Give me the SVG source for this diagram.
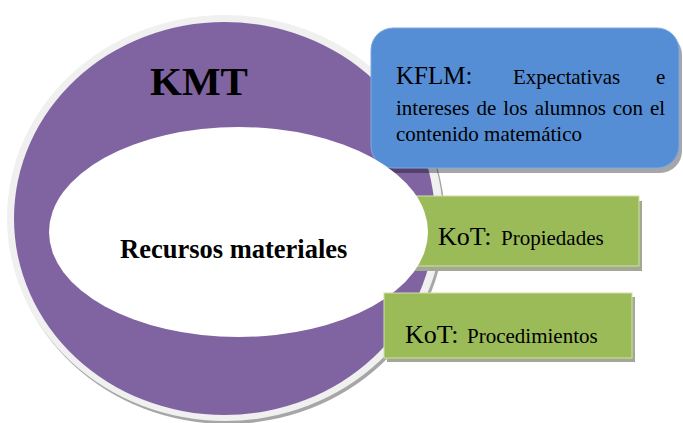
<svg xmlns="http://www.w3.org/2000/svg" width="683" height="423" viewBox="0 0 683 423">
<style>
.t{font-family:"Liberation Serif","Times New Roman",serif;fill:#000}
.b{font-weight:bold}
.green{fill:#9bbb59;stroke:#cfe0a8;stroke-width:1}
.gshadow{fill:#a3a893}
</style>
<rect width="683" height="423" fill="#fff"/>
<g id="kmt">
<ellipse cx="227" cy="221" rx="218" ry="203" fill="#a6a6a6"/>
<ellipse cx="225" cy="218" rx="218" ry="203" fill="#f0f0f0"/>
<ellipse cx="224.5" cy="218.5" rx="210.5" ry="196.5" fill="#8064a2"/>
<text class="t b" x="150" y="95" font-size="41">KMT</text>
</g>
<g id="kflm">
<rect x="374" y="33" width="308" height="140" rx="22" fill="#000" opacity="0.35"/>
<rect x="371" y="28" width="308" height="140" rx="22" fill="#558ed5" stroke="#7ea9e2" stroke-width="1"/>
<text class="t" font-size="21"><tspan x="396" y="84" font-size="25">KFLM:</tspan><tspan x="513" y="84">Expectativas</tspan><tspan x="656" y="84">e</tspan></text>
<text class="t" x="396" y="115" font-size="21" word-spacing="1.7">intereses de los alumnos con el</text>
<text class="t" x="396" y="141" font-size="21">contenido matemático</text>
</g>
<g id="kot-propiedades">
<rect class="gshadow" x="408" y="201" width="234" height="70"/>
<rect class="green" x="405" y="196" width="234" height="70"/>
<text class="t"><tspan x="438" y="245" font-size="26">KoT:</tspan><tspan x="501" y="245" font-size="21">Propiedades</tspan></text>
</g>
<g id="recursos">
<ellipse cx="238.5" cy="232" rx="189.5" ry="105" fill="#fff"/>
<text class="t b" x="120" y="258" font-size="26.5">Recursos materiales</text>
</g>
<g id="kot-procedimientos">
<rect class="gshadow" x="387" y="297" width="248" height="65"/>
<rect class="green" x="384" y="293" width="248" height="65"/>
<text class="t"><tspan x="405" y="343" font-size="26">KoT:</tspan><tspan x="467" y="343" font-size="21">Procedimientos</tspan></text>
</g>
</svg>
